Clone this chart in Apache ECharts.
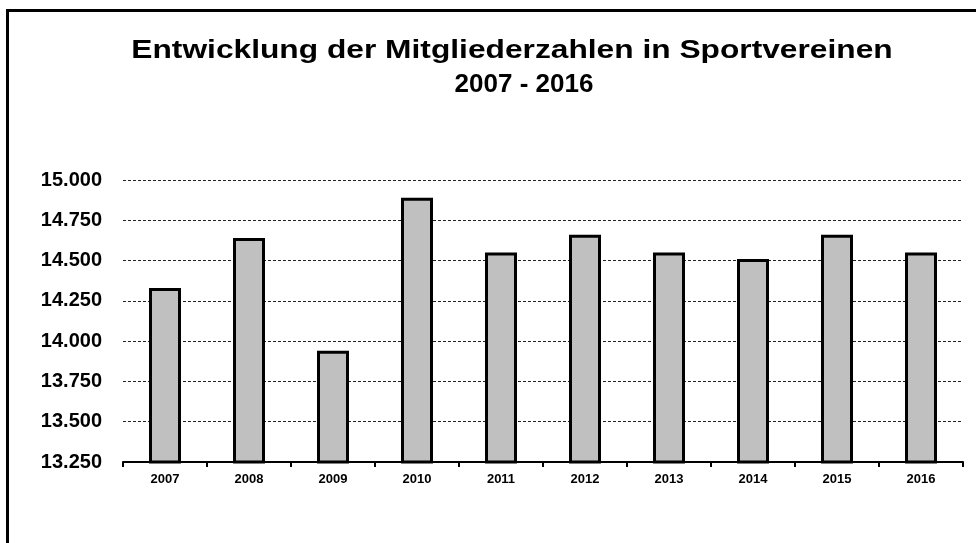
<!DOCTYPE html>
<html>
<head>
<meta charset="utf-8">
<script src="https://cdn.jsdelivr.net/npm/echarts@6/dist/echarts.min.js"></script>
<style>
  html, body { margin: 0; padding: 0; background: #fff; }
  #chart { width: 976px; height: 543px; }
</style>
</head>
<body>
<div id="chart"></div>
<script>
// Mitgliederzahlen je Jahr
const years = ['2007', '2008', '2009', '2010', '2011', '2012', '2013', '2014', '2015', '2016'];
const members = [14330, 14640, 13940, 14890, 14550, 14660, 14550, 14510, 14660, 14550];

// Wertachse
const yMin = 13250;
const yMax = 15000;
const yStep = 250;

const titleLine1 = 'Entwicklung der Mitgliederzahlen in Sportvereinen';
const titleLine2 = '2007 - 2016';

const FONT = '"Liberation Sans", Arial, Helvetica, sans-serif';

// 15000 -> "15.000"
function formatThousands(v) {
  return (v / 1000).toFixed(3);
}

const chart = echarts.init(document.getElementById('chart'), null, { renderer: 'canvas' });

chart.setOption({
  animation: false,
  backgroundColor: '#ffffff',
  graphic: [
    {
      type: 'rect',
      shape: { x: 7.5, y: 10.5, width: 1200, height: 1000 },
      style: { fill: 'none', stroke: '#000', lineWidth: 3 },
      silent: true
    },
    {
      // erste Titelzeile, etwas breiter laufend
      type: 'text',
      x: 512, y: 51,
      scaleX: 1.22,
      style: {
        text: titleLine1,
        font: 'bold 26px ' + FONT,
        fill: '#000',
        align: 'center',
        verticalAlign: 'middle'
      }
    },
    {
      type: 'text',
      x: 524, y: 85,
      style: {
        text: titleLine2,
        font: 'bold 26px ' + FONT,
        fill: '#000',
        align: 'center',
        verticalAlign: 'middle'
      }
    }
  ],
  grid: { left: 123, right: 13, top: 180, bottom: 81, containLabel: false },
  xAxis: {
    type: 'category',
    data: years,
    boundaryGap: true,
    axisLine: { show: true, lineStyle: { color: '#000', width: 2 } },
    axisTick: { show: true, alignWithLabel: false, length: 5, lineStyle: { color: '#000', width: 2 } },
    axisLabel: {
      margin: 11,
      color: '#000',
      fontFamily: FONT,
      fontWeight: 'bold',
      fontSize: 13
    },
    splitLine: { show: false }
  },
  yAxis: {
    type: 'value',
    min: yMin,
    max: yMax,
    interval: yStep,
    axisLine: { show: false },
    axisTick: { show: false },
    axisLabel: {
      margin: 21,
      color: '#000',
      fontFamily: FONT,
      fontWeight: 'bold',
      fontSize: 20,
      formatter: formatThousands
    },
    splitLine: {
      show: true,
      lineStyle: { color: '#222', width: 1, type: [3, 2] }
    }
  },
  series: [
    {
      type: 'bar',
      data: members,
      barWidth: 32,
      itemStyle: {
        color: '#c0c0c0',
        borderColor: '#000',
        borderWidth: 3
      },
      emphasis: { disabled: true }
    }
  ]
});
</script>
</body>
</html>
